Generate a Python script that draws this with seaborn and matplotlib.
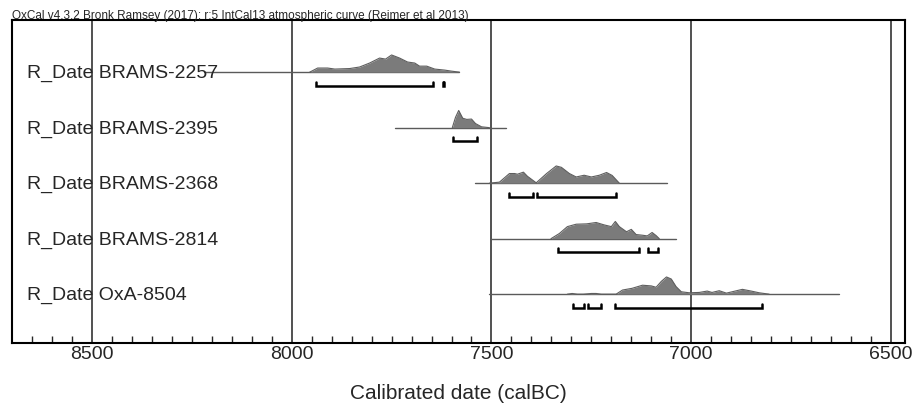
import numpy as np
import pandas as pd
import seaborn as sns
import matplotlib.pyplot as plt

# sample names, top to bottom
names = ['R_Date BRAMS-2257', 'R_Date BRAMS-2395', 'R_Date BRAMS-2368',
         'R_Date BRAMS-2814', 'R_Date OxA-8504']

# extent of the thin (unmodelled) line, calBC
line_start = [8220, 7742, 7542, 7500, 7505]
line_end = [7580, 7463, 7060, 7038, 6630]

# calibrated distributions (year calBC, relative probability)
dist_years = [
    [7955, 7935, 7910, 7892, 7855, 7830, 7805, 7780, 7765, 7750, 7730, 7710,
     7692, 7680, 7662, 7642, 7617, 7600, 7580],
    [7598, 7590, 7582, 7572, 7562, 7550, 7540, 7525, 7505],
    [7505, 7480, 7455, 7442, 7435, 7420, 7410, 7388, 7362, 7338, 7325, 7305,
     7288, 7268, 7250, 7230, 7212, 7198, 7180],
    [7351, 7330, 7310, 7288, 7262, 7238, 7218, 7200, 7190, 7180, 7162, 7150,
     7138, 7122, 7110, 7098, 7088, 7080],
    [7310, 7298, 7285, 7270, 7250, 7238, 7225, 7188, 7172, 7148, 7122, 7100,
     7088, 7075, 7062, 7050, 7038, 7025, 7005, 6980, 6960, 6948, 6930, 6912,
     6872, 6850, 6830, 6805],
]
dist_probs = [
    [0, 24, 24, 18, 21, 30, 53, 82, 76, 100, 82, 59, 53, 35, 35, 18, 12, 6, 0],
    [0, 60, 100, 55, 48, 50, 24, 5, 0],
    [0, 6, 56, 56, 52, 64, 40, 2, 56, 100, 92, 56, 36, 46, 36, 46, 62, 45, 0],
    [0, 30, 70, 84, 86, 94, 80, 70, 100, 70, 40, 54, 24, 20, 16, 36, 18, 0],
    [0, 4, 0, 0, 4, 4, 0, 0, 24, 34, 52, 48, 40, 74, 100, 88, 44, 14, 8, 10,
     18, 10, 20, 6, 28, 18, 8, 0],
]

# highest posterior density ranges (start, end) calBC
hpd_ranges = [
    [(7940, 7647), (7621, 7619)],
    [(7597, 7537)],
    [(7457, 7395), (7385, 7188)],
    [(7334, 7130), (7108, 7083)],
    [(7297, 7269), (7258, 7226), (7192, 6823)],
]

grid_years = [8500, 8000, 7500, 7000, 6500]
title = 'OxCal v4.3.2 Bronk Ramsey (2017); r:5 IntCal13 atmospheric curve (Reimer et al 2013)'

sns.set_style('white')
plt.rcParams['font.family'] = ['Liberation Sans', 'DejaVu Sans']

fig = plt.figure(figsize=(9.14, 4.08), dpi=100)
ax = fig.add_axes([12 / 914, 65 / 408, 893 / 914, 323 / 408])

peak = 0.31      # height of a distribution peak in row units
br_off = 0.245   # brackets below the baseline
br_tick = 0.07

for i, name in enumerate(names):
    y0 = -i
    ax.plot([line_start[i], line_end[i]], [y0, y0], color='#5a5a5a', lw=1.0, zorder=2)
    df = pd.DataFrame({'year': dist_years[i],
                       'y': y0 + np.array(dist_probs[i]) / 100 * peak})
    ax.fill_between(df['year'], y0, df['y'], color='#7b7b7b', lw=0, zorder=3)
    sns.lineplot(data=df, x='year', y='y', color='#5e5e5e', lw=0.8,
                 sort=False, ax=ax, zorder=4)
    yb = y0 - br_off
    for a, b in hpd_ranges[i]:
        ax.plot([a, a, b, b], [yb + br_tick, yb, yb, yb + br_tick],
                color='black', lw=1.8, solid_joinstyle='miter', zorder=4)
    ax.text(8662, y0 - 0.11, name, fontsize=14, va='baseline', ha='left', zorder=5)

for g in grid_years:
    ax.axvline(g, color='#333333', lw=1.2, zorder=1)

ax.set_xlim(8700, 6465)
ax.set_ylim(-4.88, 0.94)
ax.set_xticks(grid_years)
ax.set_xticks(np.arange(8650, 6450, -50), minor=True)
ax.tick_params(axis='x', which='minor', direction='in', length=5, width=1, bottom=True)
ax.tick_params(axis='x', which='major', direction='in', length=0, labelsize=14, pad=2)
ax.set_yticks([])
ax.set_xlabel('Calibrated date (calBC)', fontsize=15, labelpad=15)
ax.set_ylabel('')
for s in ax.spines.values():
    s.set_color('black')
    s.set_linewidth(1.5)

fig.text(12 / 914, 1 - 19 / 408, title, fontsize=8.5, ha='left', va='baseline')

fig.savefig('out.png', dpi=100)
